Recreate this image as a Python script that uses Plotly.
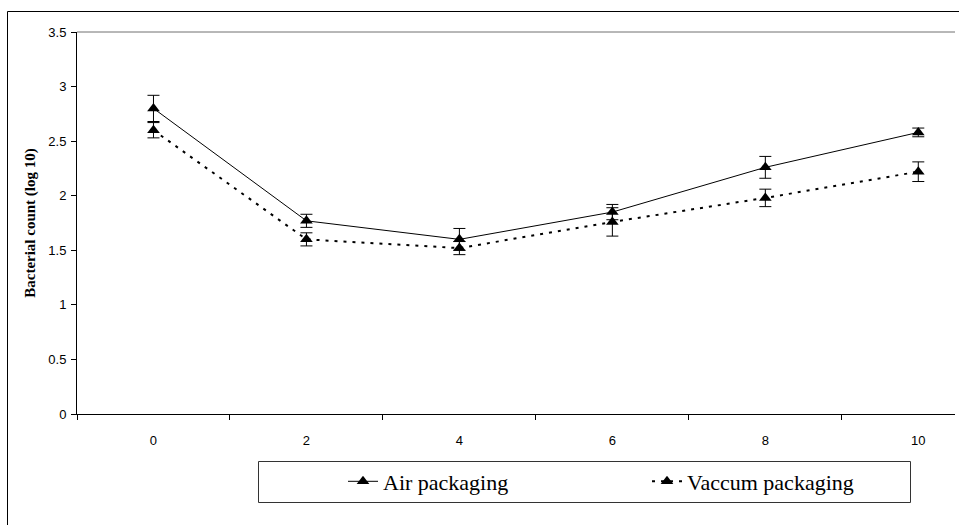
import plotly.graph_objects as go

days = [0, 2, 4, 6, 8, 10]
air_mean = [2.80, 1.77, 1.60, 1.85, 2.26, 2.58]
air_err = [0.12, 0.06, 0.10, 0.07, 0.10, 0.04]
vac_mean = [2.60, 1.60, 1.52, 1.76, 1.98, 2.22]
vac_err = [0.07, 0.06, 0.06, 0.13, 0.08, 0.09]
y_ticks = [0, 0.5, 1, 1.5, 2, 2.5, 3, 3.5]
y_ticklabels = ["0", "0.5", "1", "1.5", "2", "2.5", "3", "3.5"]
x_boundaries = [-1, 1, 3, 5, 7, 9]

W, H = 959, 525
L, T = 77, 32
R = W - 955
B = H - 414
pw, ph = W - L - R, H - T - B

def px_x(p):
    return (p - L) / pw

def px_y(p):
    return (H - B - p) / ph

fig = go.Figure()
fig.add_trace(go.Scatter(
    x=days, y=air_mean, name="Air packaging", mode="lines+markers",
    line=dict(color="black", width=1),
    marker=dict(symbol="triangle-up", size=11, color="black"),
    error_y=dict(type="data", array=air_err, visible=True, color="black", thickness=1, width=6),
    legend="legend", showlegend=True,
))
fig.add_trace(go.Scatter(
    x=days, y=vac_mean, name="Vaccum packaging", mode="lines+markers",
    line=dict(color="black", width=2, dash="3px,6px"),
    marker=dict(symbol="triangle-up", size=11, color="black"),
    error_y=dict(type="data", array=vac_err, visible=True, color="black", thickness=1, width=6),
    legend="legend2", showlegend=True,
))

legend_font = dict(family="Liberation Serif, Times New Roman, serif", size=22, color="black")
fig.update_layout(
    width=W, height=H,
    margin=dict(l=L, r=R, t=T, b=B, pad=0),
    paper_bgcolor="white", plot_bgcolor="white",
    showlegend=True,
    font=dict(family="Liberation Sans, Arial, sans-serif", size=13, color="black"),
    legend=dict(x=px_x(343), y=px_y(481.5), xanchor="left", yanchor="middle",
                font=legend_font, bgcolor="rgba(0,0,0,0)", borderwidth=0),
    legend2=dict(x=px_x(647), y=px_y(481.5), xanchor="left", yanchor="middle",
                 font=legend_font, bgcolor="rgba(0,0,0,0)", borderwidth=0),
    xaxis=dict(
        range=[-1, 10.48], tickvals=days, ticktext=[str(d) for d in days],
        ticks="outside", ticklen=0, ticklabelstandoff=14,
        showgrid=False, zeroline=False, showline=True, linecolor="black", linewidth=1,
        minor=dict(tickvals=x_boundaries, ticks="outside", ticklen=5, tickcolor="black", showgrid=False),
        tickfont=dict(size=13),
    ),
    yaxis=dict(
        range=[0, 3.5], tickvals=y_ticks, ticktext=y_ticklabels,
        ticks="outside", ticklen=5, tickcolor="black", ticklabelstandoff=2,
        showgrid=False, zeroline=False, showline=True, linecolor="black", linewidth=1,
        tickfont=dict(size=13),
        title=dict(text="Bacterial count (log 10)", standoff=9,
                   font=dict(family="Liberation Serif, Times New Roman, serif", size=15, color="black", weight="bold")),
    ),
    shapes=[
        dict(type="line", xref="paper", yref="paper", x0=0, x1=1, y0=1, y1=1,
             line=dict(color="#707070", width=1), layer="above"),
        dict(type="rect", xref="paper", yref="paper", x0=px_x(7.5), x1=1.2, y0=-0.5, y1=px_y(11.5),
             line=dict(color="black", width=1), layer="below"),
        dict(type="rect", xref="paper", yref="paper", x0=px_x(258.5), x1=px_x(910.5),
             y0=px_y(502.5), y1=px_y(461.5), line=dict(color="#333333", width=1), layer="below"),
    ],
)
fig.write_html("out.html", config={"displayModeBar": False},
               post_script="document.body.style.margin='0px';")
